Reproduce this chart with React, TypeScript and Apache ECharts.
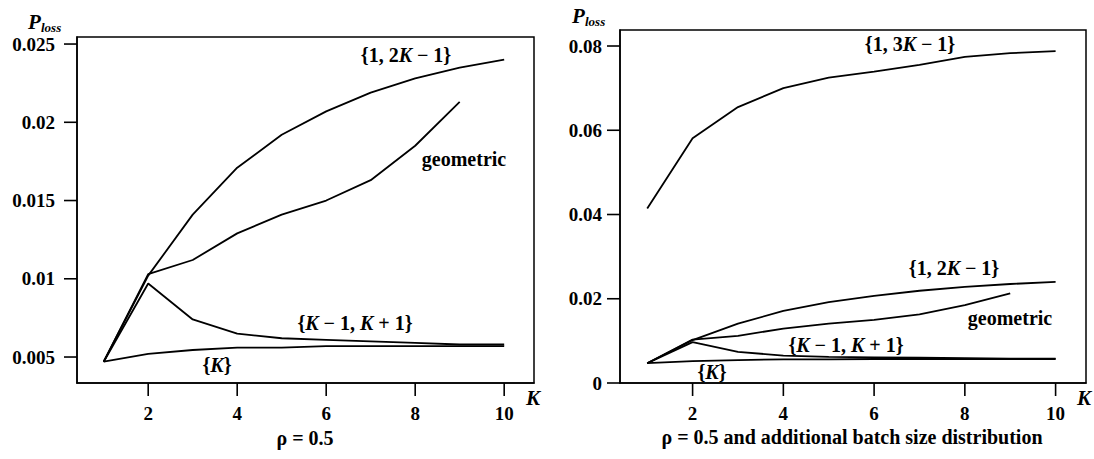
import React, { useEffect, useRef } from "react";
import * as echarts from "echarts";

const kValues = [1, 2, 3, 4, 5, 6, 7, 8, 9, 10];
const kGeometric = [1, 2, 3, 4, 5, 6, 7, 8, 9];
const oneTwoK = [0.0047, 0.0102, 0.0141, 0.0171, 0.0192, 0.0207, 0.0219, 0.0228, 0.0235, 0.024];
const geometric = [0.0047, 0.0103, 0.0112, 0.0129, 0.0141, 0.015, 0.0163, 0.0185, 0.0213];
const kMinusPlus = [0.0047, 0.0097, 0.0074, 0.0065, 0.0062, 0.0061, 0.006, 0.0059, 0.0058, 0.0058];
const kOnly = [0.0047, 0.0052, 0.00545, 0.0056, 0.0056, 0.0057, 0.0057, 0.0057, 0.0057, 0.0057];
const oneThreeK = [0.0414, 0.0581, 0.0655, 0.07, 0.0725, 0.0739, 0.0755, 0.0774, 0.0783, 0.0788];

const xTicks = [2, 4, 6, 8, 10];
const yTicksLeft = [0.005, 0.01, 0.015, 0.02, 0.025];
const yTicksRight = [0, 0.02, 0.04, 0.06, 0.08];

const X_MIN = 0.4;
const X_MAX = 10.67;
const YL_MIN = 0.00334;
const YL_MAX = 0.02545;
const YR_MIN = 0;
const YR_MAX = 0.0838;

const SERIF = "'Liberation Serif', 'DejaVu Serif', serif";

function pairs(xs: number[], ys: number[]) {
  return ys.map((y, i) => [xs[i], y]);
}

export default function App() {
  const ref = useRef<HTMLDivElement>(null);
  useEffect(() => {
    document.body.style.margin = "0";
    if (!ref.current) return;
    const chart = echarts.init(ref.current, null, { renderer: "svg" });

    const TICK = 13;
    const tickLabel = {
      color: "#000",
      fontFamily: SERIF,
      fontWeight: "bold" as const,
      fontSize: 19,
    };
    const xAxisBase = (gridIndex: number) => ({
      type: "value" as const,
      gridIndex,
      min: X_MIN,
      max: X_MAX,
      axisLine: { show: true, lineStyle: { color: "#000", width: 1.5 } },
      axisTick: { show: false },
      axisLabel: { ...tickLabel, margin: 21, customValues: xTicks },
      splitLine: { show: false },
    });
    const lineSeries = (xi: number, data: number[][]) => ({
      type: "line" as const,
      xAxisIndex: xi,
      yAxisIndex: xi,
      data,
      showSymbol: false,
      symbol: "none",
      lineStyle: { color: "#000", width: 1.8 },
      silent: true,
    });

    const ann = (text: string, x: number, y: number, size = 20) => ({
      type: "text" as const,
      x,
      y,
      style: {
        text,
        x: 0,
        y: 0,
        align: "center",
        verticalAlign: "middle",
        fill: "#000",
        fontFamily: SERIF,
        fontSize: size,
        fontWeight: "bold",
        rich: {
          i: { fontStyle: "italic", fontWeight: "bold", fontFamily: SERIF, fontSize: size, fill: "#000" },
        },
      },
    });

    const ploss = (x: number, y: number) => [
      {
        type: "text" as const,
        x,
        y,
        style: { text: "P", fill: "#000", fontFamily: SERIF, fontSize: 21, fontStyle: "italic", fontWeight: "bold", align: "left", verticalAlign: "middle" },
      },
      {
        type: "text" as const,
        x: x + 13,
        y: y + 5,
        style: { text: "loss", fill: "#000", fontFamily: SERIF, fontSize: 13, fontStyle: "italic", fontWeight: "bold", align: "left", verticalAlign: "middle" },
      },
    ];

    const texts = [
      ...ploss(28, 22),
      ...ploss(572, 16),
      ann("{1, 2{i|K} − 1}", 406, 55),
      ann("geometric", 464, 159),
      ann("{{i|K} − 1, {i|K} + 1}", 355, 323),
      ann("{{i|K}}", 217, 365),
      ann("{i|K}", 533, 398, 21),
      ann("ρ = 0.5", 305, 438),
      ann("{1, 3{i|K} − 1}", 910, 44),
      ann("{1, 2{i|K} − 1}", 954, 268),
      ann("geometric", 1010, 318),
      ann("{{i|K} − 1, {i|K} + 1}", 846, 345),
      ann("{{i|K}}", 712, 372),
      ann("{i|K}", 1084, 398, 21),
      ann("ρ = 0.5 and additional batch size distribution", 852, 437),
    ];

    chart.setOption({
      animation: false,
      grid: [
        { left: 77, top: 37, right: 560, bottom: 76, show: true, borderColor: "#000", borderWidth: 1.5, backgroundColor: "transparent" },
        { left: 620, top: 30, right: 8, bottom: 76, show: true, borderColor: "#000", borderWidth: 1.5, backgroundColor: "transparent" },
      ],
      xAxis: [xAxisBase(0), xAxisBase(1)],
      yAxis: [
        {
          type: "value",
          gridIndex: 0,
          min: YL_MIN,
          max: YL_MAX,
          axisLine: { show: true, lineStyle: { color: "#000", width: 1.5 } },
          axisTick: { show: false },
          axisLabel: {
            ...tickLabel,
            margin: 22,
            customValues: yTicksLeft,
            formatter: (v: number) => String(parseFloat(v.toFixed(4))),
          },
          splitLine: { show: false },
        },
        {
          type: "value",
          gridIndex: 1,
          min: YR_MIN,
          max: YR_MAX,
          axisLine: { show: true, lineStyle: { color: "#000", width: 1.5 } },
          axisTick: { show: false },
          axisLabel: {
            ...tickLabel,
            margin: 18,
            customValues: yTicksRight,
            formatter: (v: number) => String(parseFloat(v.toFixed(4))),
          },
          splitLine: { show: false },
        },
      ],
      series: [
        lineSeries(0, pairs(kValues, oneTwoK)),
        lineSeries(0, pairs(kGeometric, geometric)),
        lineSeries(0, pairs(kValues, kMinusPlus)),
        lineSeries(0, pairs(kValues, kOnly)),
        lineSeries(1, pairs(kValues, oneThreeK)),
        lineSeries(1, pairs(kValues, oneTwoK)),
        lineSeries(1, pairs(kGeometric, geometric)),
        lineSeries(1, pairs(kValues, kMinusPlus)),
        lineSeries(1, pairs(kValues, kOnly)),
      ],
      graphic: texts,
    });

    // Tick marks placed through the chart's own scales
    const tickLines: any[] = [];
    const addTicks = (gi: number, yMin: number, ys: number[]) => {
      const finder = { gridIndex: gi };
      xTicks.forEach((t) => {
        const p = chart.convertToPixel(finder as any, [t, yMin]) as number[];
        if (p) tickLines.push({ type: "line", shape: { x1: p[0], y1: p[1], x2: p[0], y2: p[1] + TICK }, style: { stroke: "#000", lineWidth: 1.6 }, z: 100 });
      });
      ys.forEach((t) => {
        const p = chart.convertToPixel(finder as any, [X_MIN, t]) as number[];
        if (p) tickLines.push({ type: "line", shape: { x1: p[0] - TICK, y1: p[1], x2: p[0], y2: p[1] }, style: { stroke: "#000", lineWidth: 1.6 }, z: 100 });
      });
    };
    addTicks(0, YL_MIN, yTicksLeft);
    addTicks(1, YR_MIN, yTicksRight);
    chart.setOption({ graphic: [...texts, ...tickLines] });

    return () => chart.dispose();
  }, []);
  return <div ref={ref} style={{ width: 1094, height: 459 }} />;
}
